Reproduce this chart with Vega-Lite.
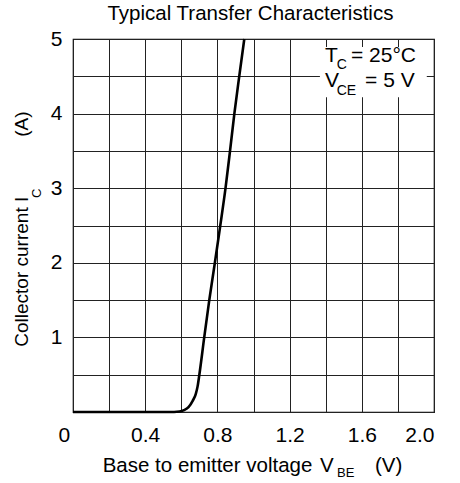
{
  "$schema": "https://vega.github.io/schema/vega-lite/v6.json",
  "width": 361,
  "height": 373,
  "autosize": {"type": "none"},
  "padding": {"left": 73, "top": 39, "right": 26, "bottom": 71},
  "background": "white",
  "config": {
    "font": "Liberation Sans",
    "view": {"stroke": "black", "strokeWidth": 1.2},
    "axis": {
      "grid": true,
      "gridColor": "#222222",
      "gridWidth": 1,
      "gridOpacity": 1,
      "ticks": false,
      "domain": false,
      "labelFont": "Liberation Sans",
      "labelFontSize": 21,
      "labelColor": "black"
    }
  },
  "datasets": {
    "curve": [
      {"x": 0, "y": 0},
      {"x": 0.3, "y": 0},
      {"x": 0.56, "y": 0},
      {"x": 0.59, "y": 0.006},
      {"x": 0.615, "y": 0.025},
      {"x": 0.64, "y": 0.065},
      {"x": 0.663, "y": 0.15},
      {"x": 0.68, "y": 0.24},
      {"x": 0.69, "y": 0.34},
      {"x": 0.7, "y": 0.5},
      {"x": 0.727, "y": 1.0},
      {"x": 0.755, "y": 1.5},
      {"x": 0.786, "y": 2.0},
      {"x": 0.816, "y": 2.5},
      {"x": 0.845, "y": 3.0},
      {"x": 0.87, "y": 3.5},
      {"x": 0.894, "y": 4.0},
      {"x": 0.921, "y": 4.5},
      {"x": 0.949, "y": 5.0}
    ],
    "box": [{"x": 1.368, "x2": 1.96, "y": 4.22, "y2": 4.893}],
    "chartTitle": [
      {"x": 0.983, "y": 5.255, "t": "Typical Transfer Characteristics"}
    ],
    "legendMain": [
      {"x": 1.396, "y": 4.696, "t": "T"},
      {"x": 1.54, "y": 4.696, "t": "= 25°C"},
      {"x": 1.396, "y": 4.361, "t": "V"},
      {"x": 1.618, "y": 4.361, "t": "= 5 V"}
    ],
    "legendSub": [
      {"x": 1.461, "y": 4.594, "t": "C"},
      {"x": 1.461, "y": 4.249, "t": "CE"}
    ],
    "xTitleMain": [
      {"x": 0.1645, "y": -0.8, "t": "Base to emitter voltage"},
      {"x": 1.368, "y": -0.8, "t": "V"},
      {"x": 1.673, "y": -0.8, "t": "(V)"}
    ],
    "xTitleSub": [
      {"x": 1.4626, "y": -0.867, "t": "BE"}
    ],
    "yTitleMain": [
      {"x": -0.2476, "y": 0.875, "t": "Collector current I"},
      {"x": -0.2476, "y": 3.69, "t": "(A)"}
    ],
    "yTitleSub": [
      {"x": -0.177, "y": 2.869, "t": "C"}
    ]
  },
  "encoding": {
    "x": {
      "field": "x", "type": "quantitative", "title": null,
      "scale": {"domain": [0, 2], "nice": false, "zero": false},
      "axis": {
        "values": [0, 0.2, 0.4, 0.6, 0.8, 1, 1.2, 1.4, 1.6, 1.8, 2],
        "labelExpr": "datum.value == 0 ? '0' : (round(datum.value*10) % 4 == 0 ? format(datum.value, '.1f') : '')",
        "labelPadding": 12,
        "labelOffset": {"condition": {"test": "datum.value == 0", "value": -15}, "value": 0}
      }
    },
    "y": {
      "field": "y", "type": "quantitative", "title": null,
      "scale": {"domain": [0, 5], "nice": false, "zero": false},
      "axis": {
        "values": [0, 0.5, 1, 1.5, 2, 2.5, 3, 3.5, 4, 4.5, 5],
        "labelExpr": "(datum.value > 0 && datum.value % 1 == 0) ? format(datum.value, 'd') : ''",
        "labelPadding": 11
      }
    }
  },
  "layer": [
    {
      "data": {"name": "curve"},
      "mark": {"type": "line", "color": "black", "strokeWidth": 2.6, "interpolate": "monotone"}
    },
    {
      "data": {"name": "box"},
      "mark": {"type": "rect", "fill": "white", "stroke": null},
      "encoding": {
        "x2": {"field": "x2"},
        "y2": {"field": "y2"}
      }
    },
    {
      "data": {"name": "chartTitle"},
      "mark": {"type": "text", "align": "center", "baseline": "alphabetic", "fontSize": 20.5, "color": "black"},
      "encoding": {"text": {"field": "t"}}
    },
    {
      "data": {"name": "legendMain"},
      "mark": {"type": "text", "align": "left", "baseline": "alphabetic", "fontSize": 21, "color": "black"},
      "encoding": {"text": {"field": "t"}}
    },
    {
      "data": {"name": "legendSub"},
      "mark": {"type": "text", "align": "left", "baseline": "alphabetic", "fontSize": 14, "color": "black"},
      "encoding": {"text": {"field": "t"}}
    },
    {
      "data": {"name": "xTitleMain"},
      "mark": {"type": "text", "align": "left", "baseline": "alphabetic", "fontSize": 20.5, "color": "black"},
      "encoding": {"text": {"field": "t"}}
    },
    {
      "data": {"name": "xTitleSub"},
      "mark": {"type": "text", "align": "left", "baseline": "alphabetic", "fontSize": 13, "color": "black"},
      "encoding": {"text": {"field": "t"}}
    },
    {
      "data": {"name": "yTitleMain"},
      "mark": {"type": "text", "align": "left", "baseline": "alphabetic", "angle": 270, "fontSize": 19, "color": "black"},
      "encoding": {"text": {"field": "t"}}
    },
    {
      "data": {"name": "yTitleSub"},
      "mark": {"type": "text", "align": "left", "baseline": "alphabetic", "angle": 270, "fontSize": 13, "color": "black"},
      "encoding": {"text": {"field": "t"}}
    }
  ]
}
